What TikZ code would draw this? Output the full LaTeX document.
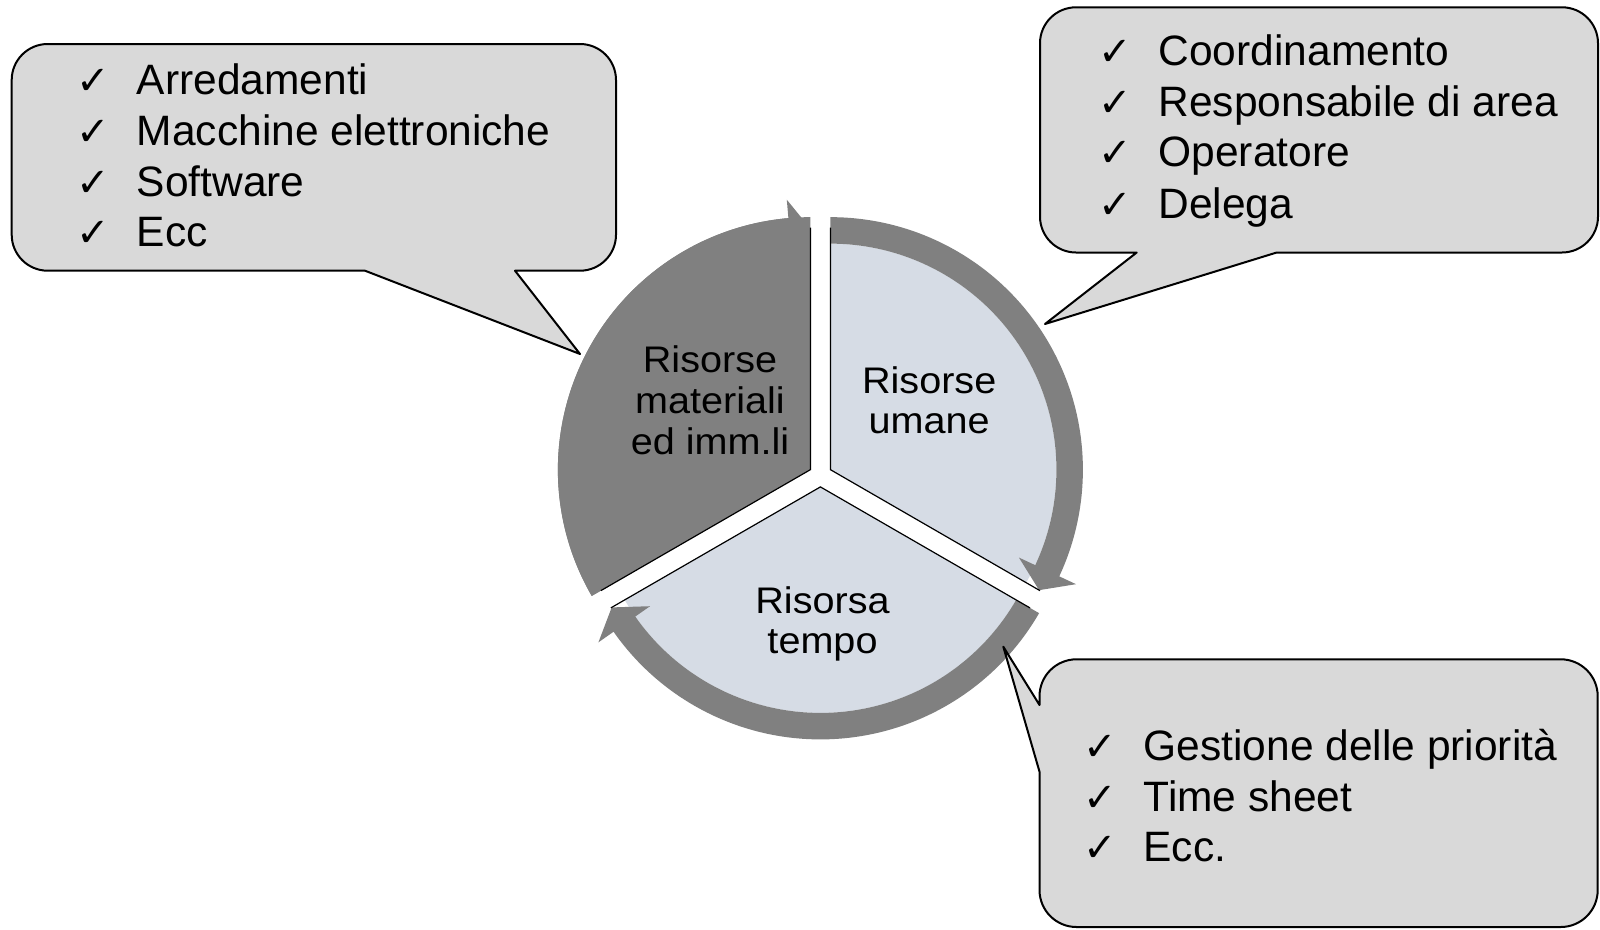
\documentclass[tikz,border=0pt]{standalone}
\usepackage{fontspec}
\setmainfont{Liberation Sans}
\newfontfamily\segfont[FakeStretch=1.07]{Liberation Sans}
\newfontfamily\symfont{DejaVu Sans}
\definecolor{ringgray}{RGB}{128,128,128}
\definecolor{segblue}{RGB}{214,220,229}
\definecolor{notegray}{RGB}{217,217,217}
% check-mark bullet in a fixed-width box
\newcommand\okmark{\makebox[58.4pt][l]{\hspace{-2pt}\symfont\fontsize{40}{40}\selectfont ✓}}
% curved band with arrow head, running clockwise round a segment
% #1 centre, #2 start angle, #3 tip angle
\newcommand\ringarrow[3]{%
  \pgfmathsetmacro\barbang{#3+5}%
  \fill[ringgray] ([shift={(#1)}]#2:252.5)
    arc[start angle=#2, end angle=\barbang, radius=252.5]
    -- ([shift={(#1)}]\barbang:271) -- ([shift={(#1)}]#3:241)
    -- ([shift={(#1)}]\barbang:208) -- ([shift={(#1)}]\barbang:226)
    arc[start angle=\barbang, end angle=#2, radius=226] -- cycle;}
\begin{document}
\begin{tikzpicture}[x=1pt,y=1pt,
  note/.style={draw=black, line width=2pt, fill=notegray, line join=round},
  item/.style={anchor=base west, inner sep=0pt, font=\fontsize{42.5}{51}\selectfont},
  seglabel/.style={anchor=base, inner sep=0pt, font=\segfont\fontsize{37}{41}\selectfont},
  segedge/.style={draw=black, line width=1.2pt},
]
\useasboundingbox (0,0) rectangle (1600,-929);
\fill[white] (0,0) rectangle (1600,-929);

% exploded three-part wheel
\coordinate (C)  at (820.4,-475.4);
\coordinate (LC) at (810.4,-469.65);
\coordinate (RC) at (830.4,-469.65);
\coordinate (BC) at (820.4,-486.9);

\fill[ringgray] (LC) -- ([shift={(LC)}]210:252.5) arc[start angle=210, end angle=90, radius=252.5] -- cycle;
\fill[segblue]  (RC) -- ([shift={(RC)}]90:226)  arc[start angle=90, end angle=-30, radius=226] -- cycle;
\fill[segblue]  (BC) -- ([shift={(BC)}]-30:226) arc[start angle=-30, end angle=-150, radius=226] -- cycle;

\ringarrow{LC}{210}{90}
\ringarrow{RC}{90}{-30}
\ringarrow{BC}{-30}{-150}

\draw[segedge] ([shift={(LC)}]90:242) -- (LC) -- ([shift={(LC)}]210:242);
\draw[segedge] ([shift={(RC)}]90:242) -- (RC) -- ([shift={(RC)}]-30:242);
\draw[segedge] ([shift={(BC)}]-30:242) -- (BC) -- ([shift={(BC)}]210:242);

\node[seglabel] (mat1) at (710,-372.7) {Risorse};
\node[seglabel] (mat2) at (710,-413.3) {materiali};
\node[seglabel] (mat3) at (710,-454) {ed imm.li};
\node[seglabel] (hum1) at (929.2,-393.3) {Risorse};
\node[seglabel] (hum2) at (929.2,-433.3) {umane};
\node[seglabel] (tim1) at (822.5,-613.3) {Risorsa};
\node[seglabel] (tim2) at (822.5,-653.3) {tempo};

% callout: material resources
\draw[note] (11.7,-234.7) -- (11.7,-80) arc[start angle=180, end angle=90, radius=36]
  -- (580,-44) arc[start angle=90, end angle=0, radius=36]
  -- (616,-234.7) arc[start angle=0, end angle=-90, radius=36]
  -- (515,-270.7) -- (580,-354) -- (365,-270.7)
  -- (47.7,-270.7) arc[start angle=270, end angle=180, radius=36] -- cycle;
\node[item] (a1) at (78.3,-94)    {\okmark Arredamenti};
\node[item] (a2) at (78.3,-145)   {\okmark Macchine elettroniche};
\node[item] (a3) at (78.3,-196)   {\okmark Software};
\node[item] (a4) at (78.3,-246.7) {\okmark Ecc};

% callout: human resources
\draw[note] (1040,-216.5) -- (1040,-43.3) arc[start angle=180, end angle=90, radius=36]
  -- (1562,-7.3) arc[start angle=90, end angle=0, radius=36]
  -- (1598,-216.5) arc[start angle=0, end angle=-90, radius=36]
  -- (1276.7,-252.5) -- (1045,-324) -- (1136.7,-252.5)
  -- (1076,-252.5) arc[start angle=270, end angle=180, radius=36] -- cycle;
\node[item] (b1) at (1100,-65)    {\okmark Coordinamento};
\node[item] (b2) at (1100,-116.7) {\okmark Responsabile di area};
\node[item] (b3) at (1100,-166.7) {\okmark Operatore};
\node[item] (b4) at (1100,-218.3) {\okmark Delega};

% callout: time
\draw[note] (1039.5,-890) -- (1039.5,-771.7) -- (1003.3,-646.7) -- (1039.5,-705)
  -- (1039.5,-696.3) arc[start angle=180, end angle=90, radius=37]
  -- (1560.7,-659.3) arc[start angle=90, end angle=0, radius=37]
  -- (1597.7,-890) arc[start angle=0, end angle=-90, radius=37]
  -- (1076.5,-927) arc[start angle=270, end angle=180, radius=37] -- cycle;
\node[item] (c1) at (1085,-760)   {\okmark Gestione delle priorità};
\node[item] (c2) at (1085,-811.7) {\okmark Time sheet};
\node[item] (c3) at (1085,-861.7) {\okmark Ecc.};
\end{tikzpicture}
\end{document}
